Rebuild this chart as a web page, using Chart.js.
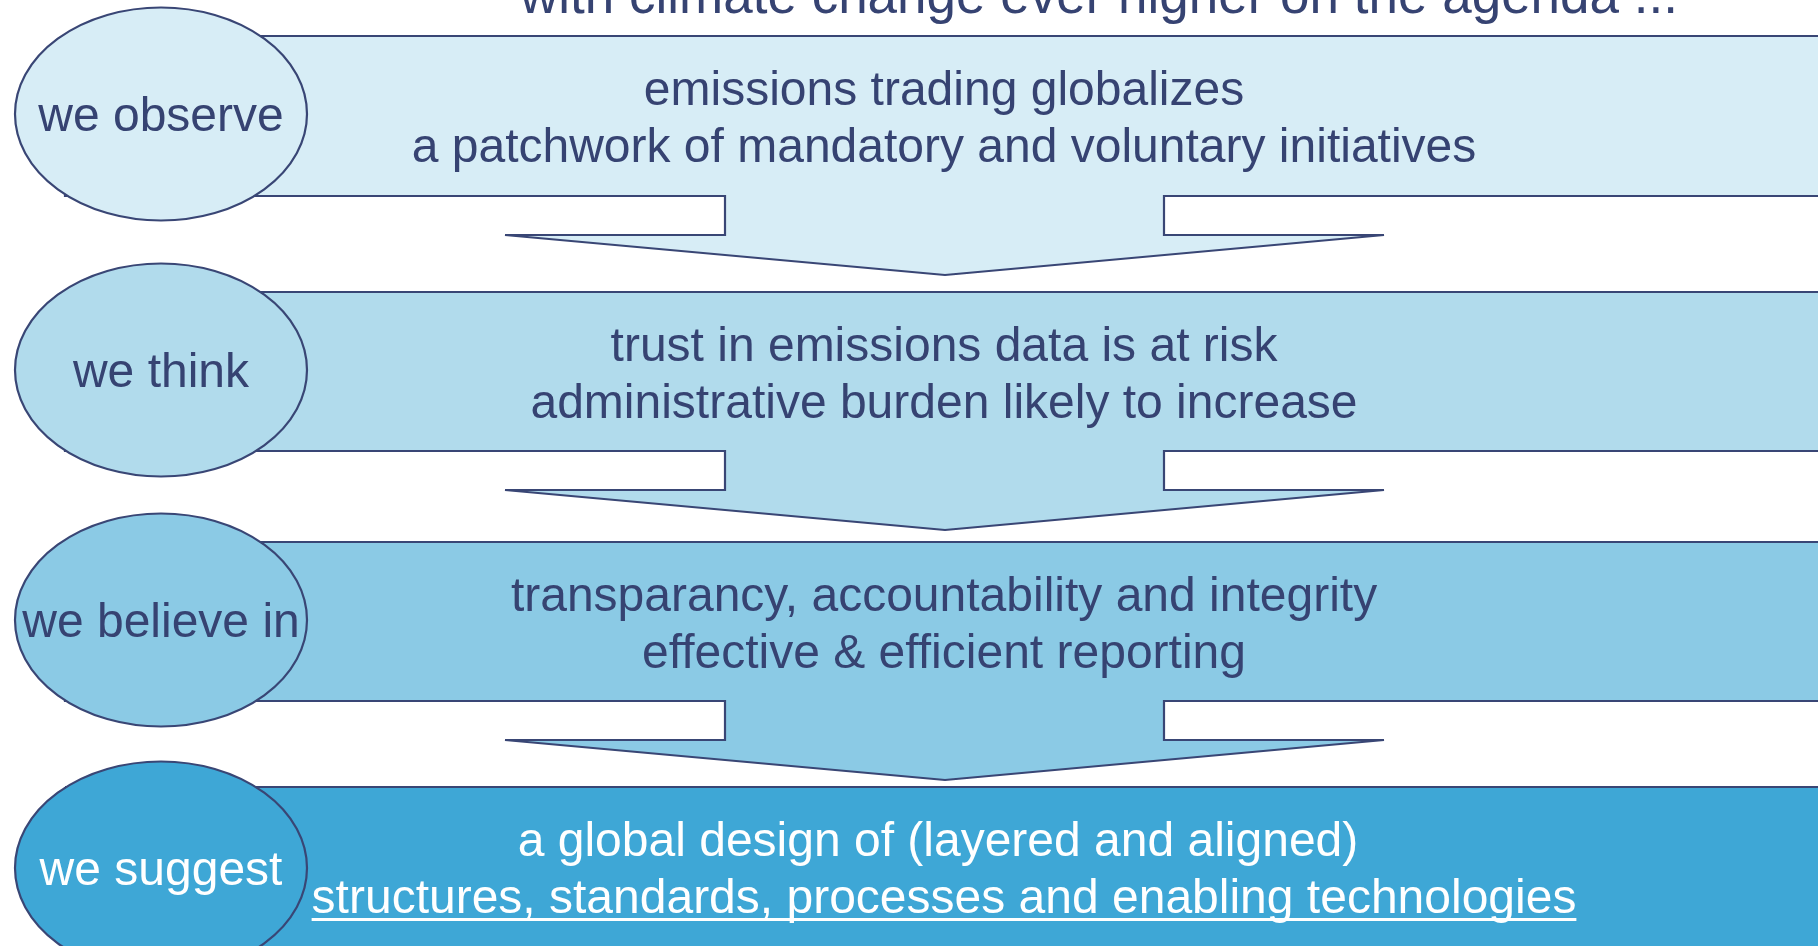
<!DOCTYPE html>
<html>
<head>
<meta charset="utf-8">
<script src="https://cdn.jsdelivr.net/npm/chart.js@4.4.1/dist/chart.umd.min.js"></script>
<style>
  html, body { margin: 0; padding: 0; background: #ffffff; overflow: hidden; }
  canvas { display: block; }
</style>
</head>
<body>
<canvas id="c" width="1818" height="946"></canvas>
<script>
// ---- content ----
const titleText = 'with climate change ever higher on the agenda ...';
const rowLabels = ['we observe', 'we think', 'we believe in', 'we suggest'];
const firstLines = [
  'emissions trading globalizes',
  'trust in emissions data is at risk',
  'transparancy, accountability and integrity',
  'a global design of (layered and aligned)'
];
const secondLines = [
  'a patchwork of mandatory and voluntary initiatives',
  'administrative burden likely to increase',
  'effective & efficient reporting',
  'structures, standards, processes and enabling technologies'
];
const underlinedSecond = [false, false, false, true];

// ---- layout (in scale units of a 1818 x 946 canvas space) ----
const bannerTops = [36, 292, 542, 787];
const bannerBottoms = [196, 451, 701, 970];
const bannerLeft = 65, bannerRight = 1840;
const shaftLeft = 725, shaftRight = 1164;
const headLeft = 505, headRight = 1384, tipX = 945;
const notchDepth = 39, tipDepth = 79;
const ellipseCX = 161, ellipseRX = 146, ellipseRY = 106.5;
const ellipseCY = [114, 370, 620, 868];
const firstLineCX = [944, 944, 944, 938];
const secondLineCX = [944, 944, 944, 944];
const line1Offset = 69, line2Offset = 126;

// ---- style ----
const fills = ['#D7EDF6', '#B1DBEC', '#8BCAE5', '#3EA7D6'];
const textColors = ['#364372', '#364372', '#364372', '#ffffff'];
const strokeColor = '#394675';
const inkColor = '#364372';
const fontFamily = '"Liberation Sans", Arial, Helvetica, sans-serif';

function bannerPath(i) {
  const top = bannerTops[i];
  const bot = bannerBottoms[i];
  const pts = [
    {x: bannerLeft, y: top},
    {x: bannerRight, y: top},
    {x: bannerRight, y: bot}
  ];
  if (i < 3) {
    pts.push(
      {x: shaftRight, y: bot},
      {x: shaftRight, y: bot + notchDepth},
      {x: headRight, y: bot + notchDepth},
      {x: tipX, y: bot + tipDepth},
      {x: headLeft, y: bot + notchDepth},
      {x: shaftLeft, y: bot + notchDepth},
      {x: shaftLeft, y: bot}
    );
  }
  pts.push({x: bannerLeft, y: bot}, {x: bannerLeft, y: top});
  return pts;
}

const datasets = rowLabels.map((lab, i) => ({
  label: lab,
  data: bannerPath(i),
  showLine: true,
  fill: 'shape',
  backgroundColor: fills[i],
  borderColor: strokeColor,
  borderWidth: 2.2,
  borderJoinStyle: 'miter',
  pointRadius: 0,
  pointHoverRadius: 0,
  tension: 0,
  clip: false
}));

const diagramPlugin = {
  id: 'diagram',
  afterDatasetsDraw(chart) {
    const ctx = chart.ctx;
    const xs = chart.scales.x, ys = chart.scales.y;
    ctx.save();
    // ellipses
    rowLabels.forEach((lab, i) => {
      const px = xs.getPixelForValue(ellipseCX);
      const py = ys.getPixelForValue(ellipseCY[i]);
      const rx = xs.getPixelForValue(ellipseCX + ellipseRX) - px;
      const ry = ys.getPixelForValue(ellipseCY[i] + ellipseRY) - py;
      ctx.beginPath();
      ctx.ellipse(px, py, Math.abs(rx), Math.abs(ry), 0, 0, Math.PI * 2);
      ctx.fillStyle = fills[i];
      ctx.fill();
      ctx.lineWidth = 2.2;
      ctx.strokeStyle = strokeColor;
      ctx.stroke();
    });
    // texts
    ctx.textAlign = 'center';
    ctx.textBaseline = 'alphabetic';
    ctx.font = '53px ' + fontFamily;
    ctx.fillStyle = inkColor;
    ctx.fillText(titleText, xs.getPixelForValue(1099), ys.getPixelForValue(13));

    ctx.font = '48px ' + fontFamily;
    rowLabels.forEach((lab, i) => {
      ctx.fillStyle = textColors[i];
      ctx.fillText(lab, xs.getPixelForValue(ellipseCX), ys.getPixelForValue(ellipseCY[i] + 17));
      const top = bannerTops[i];
      ctx.fillText(firstLines[i], xs.getPixelForValue(firstLineCX[i]), ys.getPixelForValue(top + line1Offset));
      const cx2 = xs.getPixelForValue(secondLineCX[i]);
      const by = ys.getPixelForValue(top + line2Offset);
      ctx.fillText(secondLines[i], cx2, by);
      if (underlinedSecond[i]) {
        const w = ctx.measureText(secondLines[i]).width;
        ctx.fillStyle = textColors[i];
        ctx.fillRect(cx2 - w / 2, by + 5, w, 3);
      }
    });
    ctx.restore();
  }
};

new Chart(document.getElementById('c'), {
  type: 'scatter',
  data: { datasets },
  options: {
    responsive: false,
    devicePixelRatio: 1,
    animation: false,
    layout: { padding: 0 },
    plugins: { legend: { display: false }, tooltip: { enabled: false } },
    events: [],
    scales: {
      x: { type: 'linear', min: 0, max: 1818, display: false },
      y: { type: 'linear', min: 0, max: 946, reverse: true, display: false }
    }
  },
  plugins: [diagramPlugin]
});
</script>
</body>
</html>
